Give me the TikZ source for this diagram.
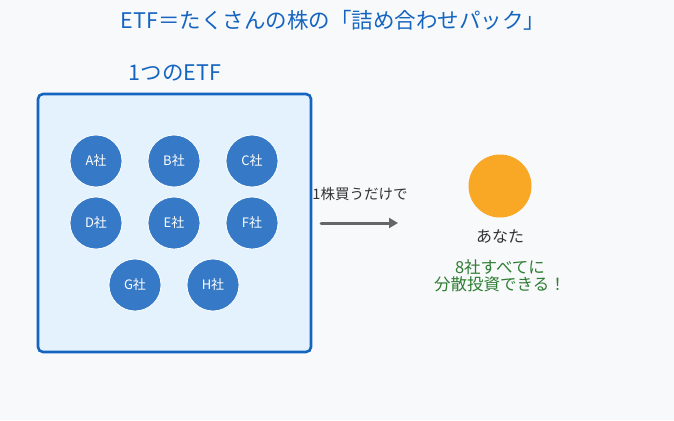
\documentclass[tikz,border=0pt]{standalone}
\usepackage{fontspec}
\setmainfont{Noto Sans CJK JP}
\usetikzlibrary{arrows.meta}

\definecolor{bgpage}{HTML}{F8F9FB}
\definecolor{etfblue}{HTML}{1565C0}
\definecolor{etffill}{HTML}{E3F2FD}
\definecolor{stockblue}{HTML}{3679C6}
\definecolor{youorange}{HTML}{F9A825}
\definecolor{textgray}{HTML}{333333}
\definecolor{arrowgray}{HTML}{666666}
\definecolor{okgreen}{HTML}{2E7D32}

\begin{document}
\begin{tikzpicture}[x=1pt,y=-1pt,
  stock/.style={circle,fill=stockblue,draw=white,line width=.8pt,
    minimum size=52pt,inner sep=0pt,text=white,font=\fontsize{13}{15}\selectfont},
  heading/.style={text=etfblue,font=\fontsize{21.5}{25}\selectfont}]
  \fill[bgpage] (0,0) rectangle (674,420);
  \useasboundingbox (0,0) rectangle (674,420);

  \node[heading] (title) at (333,20) {ETF＝たくさんの株の「詰め合わせパック」};
  \node[heading] (etflabel) at (175,73) {1つのETF};

  \draw[etfblue,fill=etffill,line width=2.6pt,rounded corners=5pt]
    (38,94) rectangle (311,352);

  \node[stock] (a) at (96,161) {A社};
  \node[stock] (b) at (174,161) {B社};
  \node[stock] (c) at (252,161) {C社};
  \node[stock] (d) at (96,223) {D社};
  \node[stock] (e) at (174,223) {E社};
  \node[stock] (f) at (252,223) {F社};
  \node[stock] (g) at (135,285) {G社};
  \node[stock] (h) at (213,285) {H社};

  \coordinate (from) at (321,223);
  \coordinate (to) at (398,223);
  \draw[arrowgray,line width=3pt,line cap=round,-{Triangle[length=9pt,width=10pt]}]
    (from) -- (to);
  \node[text=textgray,font=\fontsize{14.5}{17}\selectfont] (buy) at (360,194) {1株買うだけで};

  \node[circle,fill=youorange,minimum size=63pt,inner sep=0pt] (you) at (500,186) {};
  \node[text=textgray,font=\fontsize{16}{19}\selectfont] (youlabel) at (500,236) {あなた};
  \node[text=okgreen,font=\fontsize{16.5}{17}\selectfont,align=center] (result) at (500,276)
    {8社すべてに\\分散投資できる！};
\end{tikzpicture}
\end{document}
